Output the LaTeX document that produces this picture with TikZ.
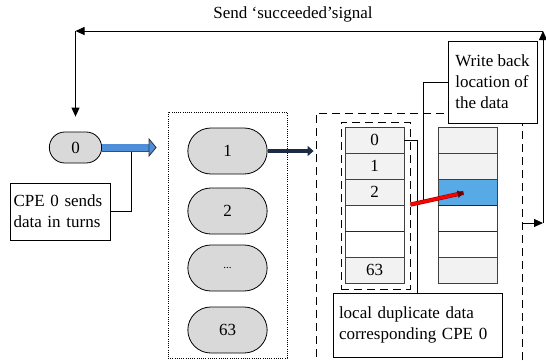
\documentclass[tikz,border=0pt]{standalone}
\usepackage{fontspec}
\setmainfont{Liberation Serif}
\usetikzlibrary{positioning, shapes.misc, arrows.meta}
\definecolor{capgray}{HTML}{D9D9D9}
\definecolor{cellgray}{HTML}{F2F2F2}
\definecolor{hitblue}{HTML}{58AAE6}
\definecolor{arrowblue}{HTML}{4F8ED8}
\definecolor{navyarrow}{HTML}{1C2B45}

\begin{document}
\begin{tikzpicture}[
      x=1pt, y=-1pt, line width=0.8pt,
      font=\fontsize{17}{21}\selectfont,
      cpe/.style={rounded rectangle, draw, fill=capgray, minimum width=86pt, minimum height=46pt},
      cell/.style={draw=black!75, minimum width=59pt, minimum height=26pt, inner sep=0pt},
      note/.style={draw, fill=white, align=left, inner sep=5pt},
      area/.style={draw, dash pattern=on 8pt off 5pt},
      sig/.style={-{Triangle[length=9pt, width=8pt]}},
      sep/.style={line width=1.8pt, black!85},
    ]
    \clip (0,0) rectangle (546,360);

    % --- sending CPE ---
    \node[cpe, minimum width=59pt, minimum height=31pt] (src) at (75.5,147.5) {0};
    \node[note, text width=93pt, inner sep=3.5pt, minimum height=57pt] (cpenote) at (60,211.5)
      {CPE 0 sends\\data in turns};

    % --- receiving CPEs ---
    \node[draw, dash pattern=on 0.8pt off 1.4pt, line width=0.7pt,
          minimum width=119pt, minimum height=246pt] (group) at (227.5,235) {};
    \foreach \i/\t/\y in {1/1/151, 2/2/211, 3/{\fontsize{11}{13}\selectfont ...}/268, 4/63/330} {
      \node[cpe] (c\i) at (227.5,\y) {\t};
    }

    % ---- local store of CPE 1 ----
    \node[area, minimum width=206pt, minimum height=262pt] (oarea) at (419,244) {};
    \node[area, minimum width=69pt, minimum height=167pt] (local) at (375.5,205.5) {};
    \foreach \i/\t/\f in {0/0/cellgray, 1/1/cellgray, 2/2/cellgray, 3//white, 4//white, 5/63/cellgray} {
      \node[cell, fill=\f] (l\i) at (374.5,140+26*\i) {\t};
    }
    \foreach \i/\f in {0/cellgray, 1/cellgray, 2/hitblue, 3/white, 4/white, 5/cellgray} {
      \node[cell, fill=\f] (r\i) at (467.5,140+26*\i) {};
    }
    \draw[sep] (l3.south west) -- (l3.south east);
    \draw[sep] (r3.south west) -- (r3.south east);
    \draw[sep] (r2.south west) -- (r2.south east);

    % ---- notes ----
    \node[note, minimum width=89pt, minimum height=82pt] (wb) at (492.5,82) {Write back\\location of\\the data};
    \node[note, text width=157pt, inner sep=6pt, minimum height=64pt] (dup) at (417.5,325)
      {local duplicate data\\corresponding CPE 0};

    \path (src.east) -- coordinate[pos=0.44] (bmid) (src.east -| group.west);
    \path (local.east |- l3.north) -- coordinate[pos=0.22] (hit) (r2.center);
    \draw (bmid) |- (cpenote.east);
    \draw (wb.west) -| (hit);
    \draw (l0.east) -| (dup.north);

    % ---- data flow ----
    \draw[line width=8pt, black!70, shorten >=16pt] (src.east) -- (src.east -| group.west);
    \draw[line width=6.4pt, arrowblue, shorten >=11pt,
          -{Triangle[length=8pt, width=19pt, fill=arrowblue, color=black!80, line width=0.8pt]}]
      (src.east) -- (src.east -| group.west);
    \draw[line width=4.5pt, navyarrow, shorten >=2pt, -{Triangle[length=6pt, width=10pt]}]
      (c1.east) -- (c1.east -| oarea.west);
    \draw[line width=4.2pt, red!60!black, shorten >=4pt] (local.east |- l3.north) -- (r2.center);
    \draw[red, line width=3pt, shorten >=4pt, -{Triangle[length=6pt, width=7pt, color=red!40!black]}]
      (local.east |- l3.north) -- (r2.center);

    % ---- succeeded signal ----
    \coordinate (ret) at (543,223);
    \coordinate (ne) at (543,31);
    \coordinate (nw) at (src.north |- ne);
    \draw[sig] (oarea.east |- ret) -- (ret);
    \draw[sig] (ret) -- (ne);
    \draw[sig] (ne) -- (nw);
    \draw[sig, shorten >=15pt] (nw) -- (src.north);
    \node (sigtext) at (293,14) {Send ‘succeeded’signal};

  \end{tikzpicture}
\end{document}
